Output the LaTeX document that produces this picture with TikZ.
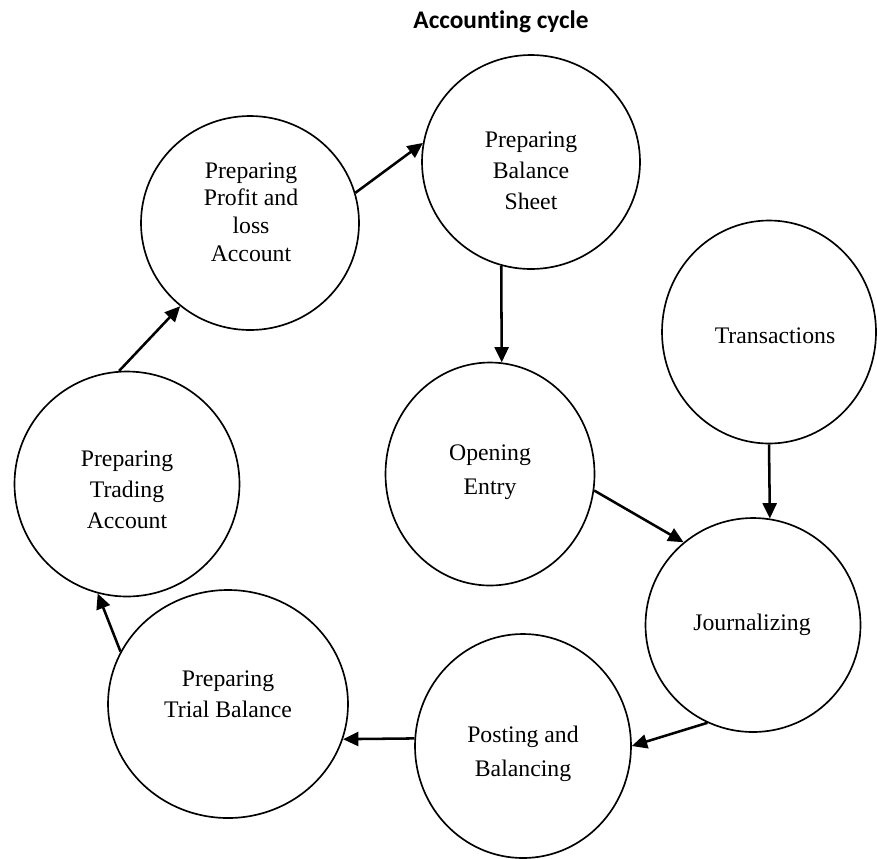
\documentclass[tikz,border=0pt]{standalone}
\usepackage{fontspec}
\setmainfont{Liberation Serif}
\newfontfamily\titlefont[Ligatures=NoCommon]{Carlito}
\usetikzlibrary{arrows.meta,shapes.geometric}

\begin{document}
\begin{tikzpicture}[x=0.75pt, y=-0.75pt,
  stage/.style 2 args={draw, ellipse, line width=1.25pt, inner sep=0pt, minimum width=#1*0.75pt, minimum height=#2*0.75pt},
  lbl/.style={align=center, inner sep=0pt, font=\fontsize{17.8}{#1}\selectfont},
  lbl/.default=23.3,
  flow/.style={-{Triangle[length=11.5pt, width=10.5pt]}, line width=1.9pt}]
  \useasboundingbox (0,0) rectangle (877,858);
  \node[font=\titlefont\bfseries\fontsize{19}{23}\selectfont] (title) at (501,22) {Accounting cycle};
  \node[stage={218}{214}] (pl) at (250,223) {};
  \node[stage={218}{214}] (bs) at (531,162) {};
  \node[stage={214}{223}] (tr) at (769,332) {};
  \node[stage={209}{223}] (oe) at (490,474) {};
  \node[stage={215}{214}] (jr) at (753,625) {};
  \node[stage={216}{224}] (pb) at (523,746) {};
  \node[stage={240}{228}] (tb) at (228,704) {};
  \node[stage={225}{225}] (ta) at (127,484) {};
  \node[lbl=20.8] (pl-t) at (251,212) {Preparing\\Profit and\\loss\\Account};
  \node[lbl] (bs-t) at (531,171) {Preparing\\Balance\\Sheet};
  \node[lbl] (tr-t) at (775,336) {Transactions};
  \node[lbl=25.5] (oe-t) at (490,472) {Opening\\Entry};
  \node[lbl] (jr-t) at (752,625) {Journalizing};
  \node[lbl=25.5] (pb-t) at (523,754) {Posting and\\Balancing};
  \node[lbl] (tb-t) at (228,694) {Preparing\\Trial Balance};
  \node[lbl] (ta-t) at (127,490) {Preparing\\Trading\\Account};
  \draw[flow] (pl.16) -- (bs.170);
  \draw[flow] (bs.-106) -- (oe.84);
  \draw[flow] (tr.south) -- (jr.81);
  \draw[flow] (oe.-9) -- (jr.130);
  \draw[flow] (jr.-115) -- (pb.east);
  \draw[flow] (pb.176) -- (tb.-17);
  \draw[flow] (tb.154) -- (ta.-105);
  \draw[flow] (ta.94) -- (pl.-130);
\end{tikzpicture}
\end{document}
